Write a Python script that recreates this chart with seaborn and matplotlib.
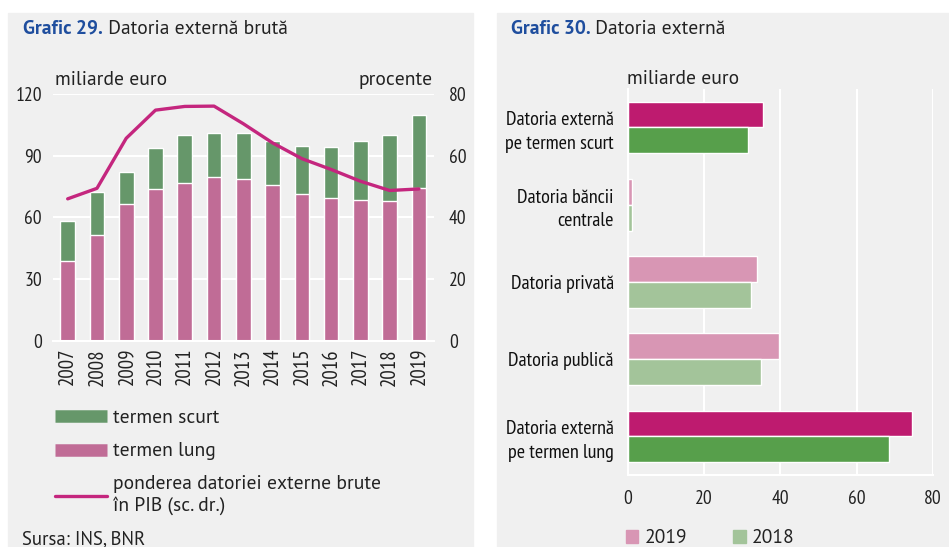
import matplotlib
matplotlib.use("Agg")
import matplotlib.pyplot as plt
from matplotlib.patches import Rectangle, Patch
from matplotlib.lines import Line2D
import seaborn as sns
import numpy as np
import pandas as pd

# Grafic 29 - datoria externa bruta
years = ["2007", "2008", "2009", "2010", "2011", "2012", "2013",
         "2014", "2015", "2016", "2017", "2018", "2019"]
total_debt = [58.4, 72.1, 82.0, 93.5, 99.9, 100.8, 100.8, 97.1, 94.5, 94.1, 97.3, 99.9, 109.8]
long_term = [38.6, 51.6, 66.5, 73.8, 76.8, 79.6, 78.6, 75.7, 71.2, 69.4, 68.3, 68.0, 74.1]
share_gdp = [46.0, 49.4, 65.6, 74.7, 75.9, 76.0, 70.3, 64.1, 59.0, 55.5, 51.7, 48.7, 49.2]

# Grafic 30 - datoria externa
categories = ["Datoria externă\npe termen scurt", "Datoria băncii\ncentrale",
              "Datoria privată", "Datoria publică", "Datoria externă\npe termen lung"]
debt_2019 = [35.4, 1.1, 33.8, 39.6, 74.4]
debt_2018 = [31.5, 1.1, 32.3, 34.9, 68.4]

GREEN = "#66976A"
PINK = "#C06C96"
LINE = "#C4267E"
DARK_2019 = "#BE1B6F"
DARK_2018 = "#579F4B"
LIGHT_2019 = "#D896B4"
LIGHT_2018 = "#A3C49A"
BLUE = "#1F4E9E"
PANEL = "#F0F0F0"
TXT = "#222222"

REG = ["PT Sans", "Open Sans", "DejaVu Sans"]
NARROW = ["PT Sans Narrow", "Liberation Sans", "DejaVu Sans"]

sns.set_theme(style="white")
plt.rcParams["font.family"] = REG

fig = plt.figure(figsize=(9.49, 5.47), dpi=100)
fig.patches.append(Rectangle((0.0084, 0), 0.49, 0.976, transform=fig.transFigure,
                             color=PANEL, zorder=-10))
fig.patches.append(Rectangle((0.5237, 0), 0.4763, 0.976, transform=fig.transFigure,
                             color=PANEL, zorder=-10))

# ---------- left chart ----------
ax = fig.add_axes([0.0559, 0.3766, 0.401, 0.452])
ax.set_facecolor(PANEL)
df = pd.DataFrame({"an": years, "total": total_debt, "lung": long_term})
sns.barplot(data=df, x="an", y="total", color=GREEN, saturation=1, width=0.5, ax=ax)
sns.barplot(data=df, x="an", y="lung", color=PINK, saturation=1, width=0.5, ax=ax)
ax.set_ylim(0, 120)
ax.set_yticks([0, 30, 60, 90, 120])
ax.set_xlim(-0.5, len(years) - 0.5)
ax.set_xlabel("")
ax.set_ylabel("")
ax.grid(axis="y", color="white", lw=1.5)
ax.set_axisbelow(True)
for s in ["left", "right", "top"]:
    ax.spines[s].set_visible(False)
ax.spines["bottom"].set_color("white")
ax.spines["bottom"].set_linewidth(1.5)
ax.tick_params(axis="y", length=0, pad=8, labelsize=14, labelcolor=TXT)
ax.tick_params(axis="x", length=0, pad=5, labelsize=15, labelcolor=TXT, rotation=90)
ax.set_xticks(np.arange(-0.5, len(years), 1), minor=True)
ax.tick_params(axis="x", which="minor", length=5, width=1.5, color="white")
for lab in ax.get_xticklabels() + ax.get_yticklabels():
    lab.set_family(NARROW)

ax2 = ax.twinx()
sns.lineplot(x=np.arange(len(years)), y=share_gdp, color=LINE, lw=2.4, ax=ax2)
ax2.set_ylim(0, 80)
ax2.set_yticks([0, 20, 40, 60, 80])
ax2.set_xlim(-0.5, len(years) - 0.5)
for s in ["left", "right", "top", "bottom"]:
    ax2.spines[s].set_visible(False)
ax2.tick_params(axis="y", length=0, pad=11, labelsize=14, labelcolor=TXT)
for lab in ax2.get_yticklabels():
    lab.set_family(NARROW)

fig.text(0.058, 0.845, "miliarde euro", fontsize=14, color=TXT)
fig.text(0.456, 0.845, "procente", fontsize=14, color=TXT, ha="right")

handles = [Line2D([], [], color=GREEN, lw=9, solid_capstyle="butt"),
           Line2D([], [], color=PINK, lw=9, solid_capstyle="butt"),
           Line2D([], [], color=LINE, lw=2.4)]
labels = ["termen scurt", "termen lung", "ponderea datoriei externe brute\nîn PIB (sc. dr.)"]
fig.legend(handles, labels, loc="upper left", bbox_to_anchor=(0.04, 0.284),
           frameon=False, fontsize=14, handlelength=2.65, handletextpad=0.3,
           labelspacing=0.78, labelcolor=TXT)

fig.text(0.023, 0.005, "Sursa: INS, BNR", fontsize=13.5, color=TXT)

t1 = fig.text(0.024, 0.938, "Grafic 29.", fontsize=14, color=BLUE, weight="bold")
ax.annotate(" Datoria externă brută", xy=(1, 0), xycoords=t1, fontsize=14,
            color=TXT, va="bottom")

# ---------- right chart ----------
bx = fig.add_axes([0.6614, 0.1316, 0.322, 0.706])
bx.set_facecolor(PANEL)
long_df = pd.DataFrame({
    "categorie": categories * 2,
    "valoare": debt_2019 + debt_2018,
    "an": ["2019"] * len(categories) + ["2018"] * len(categories),
})
sns.barplot(data=long_df, y="categorie", x="valoare", hue="an", hue_order=["2019", "2018"],
            orient="h", width=0.67, saturation=1, legend=False, ax=bx)
dark = [True, False, False, False, True]
for cont, year in zip(bx.containers, ["2019", "2018"]):
    for bar, d in zip(cont, dark):
        if year == "2019":
            bar.set_facecolor(DARK_2019 if d else LIGHT_2019)
        else:
            bar.set_facecolor(DARK_2018 if d else LIGHT_2018)
bx.set_xlim(0, 80)
bx.set_xticks([0, 20, 40, 60, 80])
bx.set_ylim(len(categories) - 0.5, -0.5)
bx.set_xlabel("")
bx.set_ylabel("")
bx.grid(axis="x", color="white", lw=1.5)
bx.set_axisbelow(True)
for s in ["right", "top"]:
    bx.spines[s].set_visible(False)
for s in ["left", "bottom"]:
    bx.spines[s].set_color("white")
    bx.spines[s].set_linewidth(1.5)
bx.tick_params(axis="x", length=5, width=1.5, color="white", pad=6, labelsize=14,
               labelcolor=TXT)
bx.tick_params(axis="y", length=0, pad=10, labelsize=14.5, labelcolor="#111111")
bx.set_yticks(np.arange(-0.5, len(categories), 1), minor=True)
bx.tick_params(axis="y", which="minor", length=6, width=1.5, color="white")
for lab in bx.get_xticklabels() + bx.get_yticklabels():
    lab.set_family(NARROW)
for lab in bx.get_yticklabels():
    lab.set_horizontalalignment("right")
    lab.set_multialignment("right")
    lab.set_linespacing(1.4)

fig.text(0.661, 0.846, "miliarde euro", fontsize=14, color=TXT)

fig.legend([Patch(color=LIGHT_2019), Patch(color=LIGHT_2018)], ["2019", "2018"],
           loc="lower left", bbox_to_anchor=(0.641, -0.032), ncol=2, frameon=False,
           fontsize=14, handlelength=0.65, handleheight=0.65, handletextpad=0.3,
           columnspacing=2.4, labelcolor=TXT)

t2 = fig.text(0.538, 0.938, "Grafic 30.", fontsize=14, color=BLUE, weight="bold")
bx.annotate(" Datoria externă", xy=(1, 0), xycoords=t2, fontsize=14,
            color=TXT, va="bottom")

fig.savefig("out.png", dpi=100)
